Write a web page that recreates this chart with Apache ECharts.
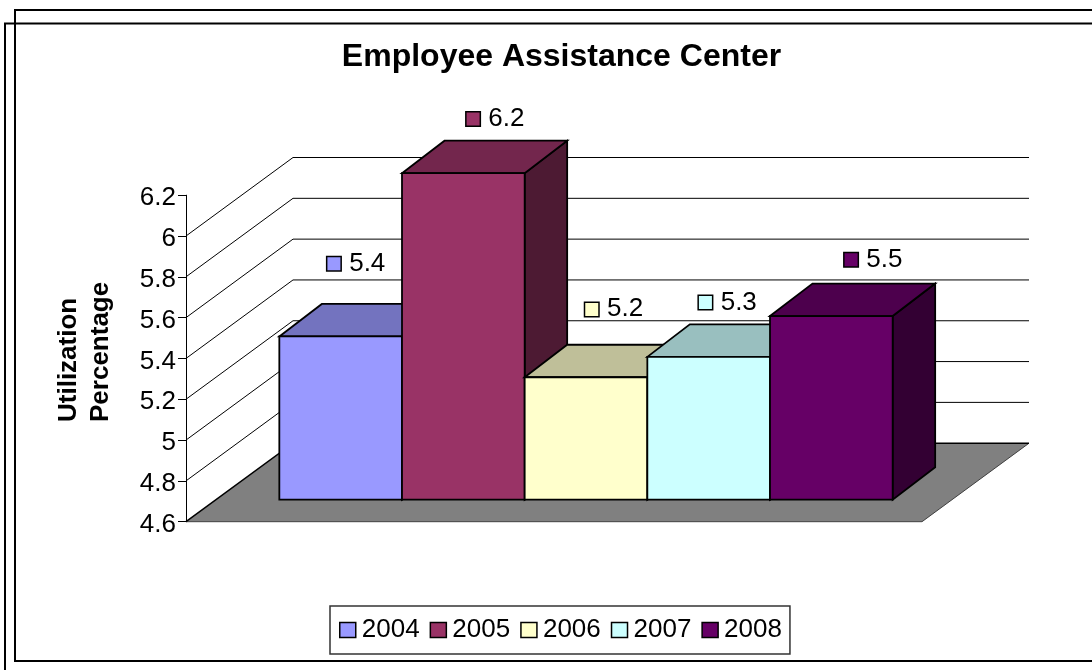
<!DOCTYPE html>
<html>
<head>
<meta charset="utf-8">
<style>html,body{margin:0;padding:0;background:#fff}#chart{width:1092px;height:670px}</style>
<script src="https://cdn.jsdelivr.net/npm/echarts@6/dist/echarts.min.js"></script>
</head>
<body>
<div id="chart"></div>
<script>
// Utilization percentage per year
const years = ['2004', '2005', '2006', '2007', '2008'];
const utilization = [5.4, 6.2, 5.2, 5.3, 5.5];
const wallTicks = [4.6, 4.8, 5.0, 5.2, 5.4, 5.6, 5.8, 6.0];

// Face colours of each column: front, top, side
const frontColors = ['#9999FF', '#993366', '#FFFFCC', '#CCFFFF', '#660066'];
const topColors = ['#7373BF', '#73264D', '#BFBF99', '#99BFBF', '#4D004D'];
const sideColors = ['#4D4D80', '#4D1A33', '#808066', '#668080', '#330033'];

// Oblique projection used for the pseudo-3D look
const FLOOR_DX = 107, FLOOR_DY = -78.5;
const BAR_DX = 42.5, BAR_DY = -32.5;
const PLANE_DX = 32, PLANE_DY = -22;
const FONT = '"Liberation Sans", Arial, sans-serif';

// Where each value tag sits relative to the middle of its column's front top edge
const tagShift = [[15.5, -73], [32, -54.5], [28, -68], [19, -54.5], [42, -56.5]];

function polygon(points, fill, strokeWidth, stroke) {
  return {
    type: 'polygon',
    shape: { points },
    style: { fill, stroke: stroke || '#000', lineWidth: strokeWidth === undefined ? 1.8 : strokeWidth, lineJoin: 'miter' }
  };
}

// Back wall rules, the floor and their connecting diagonals
function renderWall(params, api) {
  const sys = params.coordSys;
  const y = api.coord([0, api.value(1)])[1];
  const x0 = sys.x, x1 = sys.x + sys.width;
  const children = [];
  if (params.dataIndex === 0) {
    children.push(polygon([[x0, y], [x1, y], [x1 + FLOOR_DX, y + FLOOR_DY], [x0 + FLOOR_DX, y + FLOOR_DY]], '#808080', 0));
    children.push({
      type: 'polyline',
      shape: { points: [[x0, y], [x1, y], [x1 + FLOOR_DX, y + FLOOR_DY]] },
      style: { fill: 'none', stroke: '#404040', lineWidth: 1 }
    });
  }
  children.push({
    type: 'polyline',
    shape: { points: [[x0, y], [x0 + FLOOR_DX, y + FLOOR_DY], [x1 + FLOOR_DX, y + FLOOR_DY]] },
    style: { fill: 'none', stroke: '#000', lineWidth: params.dataIndex === 0 ? 1.5 : 1 }
  });
  return { type: 'group', children };
}

// One column: side, top and front faces, plus its value tag
function renderColumn(index) {
  return function (params, api) {
    const value = api.value(1);
    const centre = api.coord([0, value]);
    const baseY = api.coord([0, 4.6])[1] + PLANE_DY;
    const w = api.size([1, 0])[0] / 6;
    const x0 = centre[0] + PLANE_DX + (index - 2.5) * w;
    const x1 = x0 + w;
    const topY = centre[1] + PLANE_DY;
    const tagX = (x0 + x1) / 2 + tagShift[index][0];
    const tagY = topY + tagShift[index][1];
    return {
      type: 'group',
      children: [
        polygon([[x1, topY], [x1 + BAR_DX, topY + BAR_DY], [x1 + BAR_DX, baseY + BAR_DY], [x1, baseY]], sideColors[index]),
        polygon([[x0, topY], [x0 + BAR_DX, topY + BAR_DY], [x1 + BAR_DX, topY + BAR_DY], [x1, topY]], topColors[index]),
        polygon([[x0, topY], [x1, topY], [x1, baseY], [x0, baseY]], frontColors[index]),
        {
          type: 'rect',
          shape: { x: tagX - 29.5, y: tagY - 7, width: 14.5, height: 14.5 },
          style: { fill: frontColors[index], stroke: '#000', lineWidth: 1.5 }
        },
        {
          type: 'text',
          x: tagX - 7,
          y: tagY,
          style: { text: String(value), fill: '#000', font: '26px ' + FONT, align: 'left', verticalAlign: 'middle' }
        }
      ]
    };
  };
}

const columnSeries = years.map((year, i) => ({
  type: 'custom',
  name: year,
  z: 3 + i,
  itemStyle: { color: frontColors[i] },
  encode: { x: 0, y: 1 },
  data: [[0, utilization[i]]],
  renderItem: renderColumn(i)
}));

const option = {
  animation: false,
  backgroundColor: '#fff',
  title: {
    text: 'Employee Assistance Center',
    left: 556.5,
    top: 36,
    textAlign: 'center',
    textStyle: { fontFamily: FONT, fontSize: 32, fontWeight: 'bold', color: '#000' }
  },
  legend: {
    left: 330,
    top: 606,
    padding: [11, 8, 11, 9],
    itemGap: 10,
    itemWidth: 16,
    itemHeight: 15,
    icon: 'rect',
    borderColor: '#333',
    borderWidth: 1.5,
    textStyle: { fontFamily: FONT, fontSize: 26, color: '#000', padding: [0, 0, 0, 1] },
    data: years.map((year, i) => ({
      name: year,
      itemStyle: { color: frontColors[i], borderColor: '#000', borderWidth: 1.5 }
    }))
  },
  grid: { left: 186, top: 195.2, width: 736, height: 326.5 },
  xAxis: {
    type: 'category',
    data: [''],
    axisLine: { show: false },
    axisTick: { show: false },
    axisLabel: { show: false }
  },
  yAxis: {
    type: 'value',
    min: 4.6,
    max: 6.2,
    interval: 0.2,
    axisLine: { show: true, lineStyle: { color: '#000', width: 1 } },
    axisTick: { show: true, length: 8, lineStyle: { color: '#000', width: 1 } },
    splitLine: { show: false },
    axisLabel: {
      fontFamily: FONT,
      fontSize: 26,
      color: '#000',
      margin: 10,
      verticalAlign: 'top',
      lineHeight: 6,
      formatter: v => String(Math.round(v * 10) / 10)
    }
  },
  graphic: [
    // Two-line axis caption, both lines starting from the same baseline end
    {
      type: 'text',
      x: 85,
      y: 422,
      rotation: Math.PI / 2,
      style: {
        text: 'Utilization\nPercentage',
        fill: '#000',
        font: 'bold 26px ' + FONT,
        lineHeight: 32,
        align: 'left',
        verticalAlign: 'middle'
      }
    },
    { type: 'rect', z: 100, shape: { x: 15, y: 10, width: 1120, height: 651 }, style: { fill: 'none', stroke: '#000', lineWidth: 2 } },
    { type: 'rect', z: 100, shape: { x: 5, y: 23.5, width: 1130, height: 700 }, style: { fill: 'none', stroke: '#000', lineWidth: 2 } }
  ],
  series: [
    {
      type: 'custom',
      name: 'wall',
      z: 1,
      encode: { x: 0, y: 1 },
      data: wallTicks.map(v => [0, v]),
      renderItem: renderWall
    },
    ...columnSeries
  ]
};

echarts.init(document.getElementById('chart'), null, { renderer: 'canvas' }).setOption(option);
</script>
</body>
</html>
